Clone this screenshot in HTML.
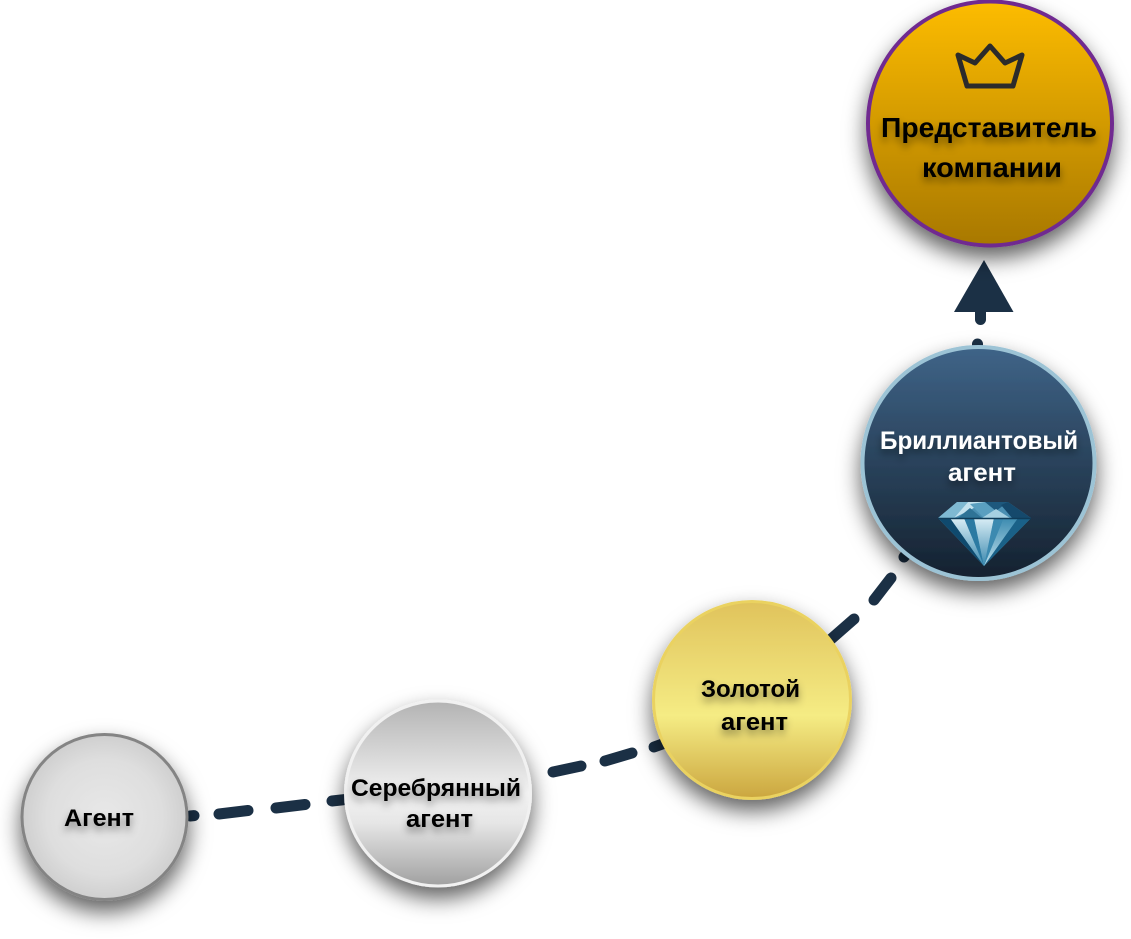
<!DOCTYPE html>
<html lang="ru">
<head>
<meta charset="utf-8">
<title>Агент</title>
<style>
html,body{margin:0;padding:0;background:#fff;width:1131px;height:939px;overflow:hidden}
svg{display:block}
text{font-family:"Liberation Sans",sans-serif;font-weight:700;text-anchor:start}
</style>
</head>
<body>
<svg width="1131" height="939" viewBox="0 0 1131 939" xmlns="http://www.w3.org/2000/svg">
<defs>
<filter id="ds" x="-40%" y="-40%" width="180%" height="190%">
<feDropShadow dx="0" dy="11" stdDeviation="11" flood-color="#000" flood-opacity="0.62"/>
</filter>
<filter id="ts" x="-20%" y="-60%" width="140%" height="260%">
<feDropShadow dx="0" dy="5" stdDeviation="4" flood-color="#000" flood-opacity="0.42"/>
</filter>
<radialGradient id="gA" cx="50%" cy="50%" r="50%">
<stop offset="0" stop-color="#e8e8e8"/><stop offset="0.7" stop-color="#dedede"/><stop offset="1" stop-color="#cfcfcf"/>
</radialGradient>
<linearGradient id="gS" x1="0" y1="0" x2="0" y2="1">
<stop offset="0" stop-color="#b3b3b3"/><stop offset="0.5" stop-color="#f2f2f2"/><stop offset="0.66" stop-color="#e6e6e6"/><stop offset="1" stop-color="#a0a0a0"/>
</linearGradient>
<linearGradient id="gG" x1="0" y1="0" x2="0" y2="1">
<stop offset="0" stop-color="#e0c35c"/><stop offset="0.58" stop-color="#f5ec84"/><stop offset="1" stop-color="#cba63f"/>
</linearGradient>
<linearGradient id="gD" x1="0" y1="0" x2="0" y2="1">
<stop offset="0" stop-color="#3f6488"/><stop offset="1" stop-color="#14212f"/>
</linearGradient>
<linearGradient id="gR" x1="0" y1="0" x2="0" y2="1">
<stop offset="0" stop-color="#fdbc00"/><stop offset="1" stop-color="#a87800"/>
</linearGradient>
<linearGradient id="f1" x1="0" y1="0" x2="0" y2="1">
<stop offset="0" stop-color="#d9eef6"/><stop offset="1" stop-color="#3a88ae"/>
</linearGradient>
<linearGradient id="f2" x1="0" y1="0" x2="1" y2="1">
<stop offset="0" stop-color="#0f4a6e"/><stop offset="1" stop-color="#9fd0e4"/>
</linearGradient>
<linearGradient id="f3" x1="0" y1="0" x2="0" y2="1">
<stop offset="0" stop-color="#3c8bb0"/><stop offset="1" stop-color="#bfe0ec"/>
</linearGradient>
</defs>

<!-- Connector -->
<g stroke="#1b3045" stroke-width="11" stroke-linecap="round" fill="none">
<path d="M190 816 L194 815.600"/>
<path d="M219 814 L248 810.500"/>
<path d="M276 808 L305 804.500"/>
<path d="M332 801 L350 799"/>
<path d="M553 772 L581 766"/>
<path d="M605 761 L632 753"/>
<path d="M654 747 L668 742"/>
<path d="M830 640 L854 619"/>
<path d="M874 600 L891 578"/>
<path d="M904 557 L909 551"/>
<path d="M977.500 344 L977.500 352"/>
<path d="M980.500 300 L980.500 319.500"/>
</g>
<polygon points="984,260 1013.500,312 954,312" fill="#1b3045"/>

<!-- Agent -->
<circle cx="104.500" cy="817" r="82.500" fill="url(#gA)" stroke="#848484" stroke-width="3" filter="url(#ds)"/>
<text x="64" y="826" font-size="24" textLength="70" lengthAdjust="spacingAndGlyphs" filter="url(#ts)">Агент</text>

<!-- Silver -->
<circle cx="438" cy="793.500" r="92.500" fill="url(#gS)" stroke="#f1f1f1" stroke-width="3" filter="url(#ds)"/>
<text x="351" y="796" font-size="24" textLength="170" lengthAdjust="spacingAndGlyphs" filter="url(#ts)">Серебрянный</text>
<text x="406" y="827" font-size="24" textLength="67" lengthAdjust="spacingAndGlyphs" filter="url(#ts)">агент</text>

<!-- Gold -->
<circle cx="752" cy="700" r="98.500" fill="url(#gG)" stroke="#ead261" stroke-width="3" filter="url(#ds)"/>
<text x="701" y="697" font-size="24" textLength="99" lengthAdjust="spacingAndGlyphs" filter="url(#ts)">Золотой</text>
<text x="721" y="730" font-size="24" textLength="67" lengthAdjust="spacingAndGlyphs" filter="url(#ts)">агент</text>

<!-- Diamond agent -->
<circle cx="978.500" cy="463" r="116" fill="url(#gD)" stroke="#9cc3d5" stroke-width="4" filter="url(#ds)"/>
<text x="880" y="449" font-size="25" textLength="198" lengthAdjust="spacingAndGlyphs" fill="#fff" filter="url(#ts)">Бриллиантовый</text>
<text x="948" y="481" font-size="25" textLength="68" lengthAdjust="spacingAndGlyphs" fill="#fff" filter="url(#ts)">агент</text>

<!-- Gem -->
<g>
<polygon points="957,502 1008,502 1031,518 938,518" fill="#4a8fb2"/>
<polygon points="957,502 968,502 954,518 938,518" fill="#7fb9d2"/>
<polygon points="968,502 985,502 970,510 954,518" fill="#c4e2ee"/>
<polygon points="958,518 970,508 982,518" fill="#2f7396"/>
<polygon points="970,504 985,502 996,511 984,518" fill="#5a9fc0"/>
<polygon points="985,502 1008,502 996,511" fill="#1d587d"/>
<polygon points="982,518 996,509 1010,518" fill="#a6d1e2"/>
<polygon points="1001,505 1008,502 1031,518 1012,518" fill="#15496c"/>
<polygon points="938,518 1031,518 984,566" fill="#5da4c5"/>
<polygon points="938,518 950,518 984,566" fill="#0f4a6e"/>
<polygon points="950,518 964,518 984,566" fill="url(#f1)"/>
<polygon points="964,518 974,518 984,566" fill="#2c7aa2"/>
<polygon points="974,518 994,518 984,566" fill="url(#f1)"/>
<polygon points="994,518 1004,518 984,566" fill="#3c8ab0"/>
<polygon points="1004,518 1018,518 984,566" fill="url(#f3)"/>
<polygon points="1018,518 1031,518 984,566" fill="#1a6188"/>
<line x1="938" y1="518.500" x2="1031" y2="518.500" stroke="#0f3c59" stroke-width="1.500"/>
</g>

<!-- Representative -->
<circle cx="990" cy="123.500" r="122" fill="url(#gR)" stroke="#6f2a90" stroke-width="4" filter="url(#ds)"/>
<polygon points="958,55 975,63 990,46 1005,63 1022,55 1013,86 967,86" fill="none" stroke="#2b2b2b" stroke-width="5" stroke-linejoin="round"/>
<text x="881" y="137" font-size="28" textLength="216" lengthAdjust="spacingAndGlyphs" filter="url(#ts)">Представитель</text>
<text x="922" y="177" font-size="28" textLength="140" lengthAdjust="spacingAndGlyphs" filter="url(#ts)">компании</text>
</svg>
</body>
</html>
